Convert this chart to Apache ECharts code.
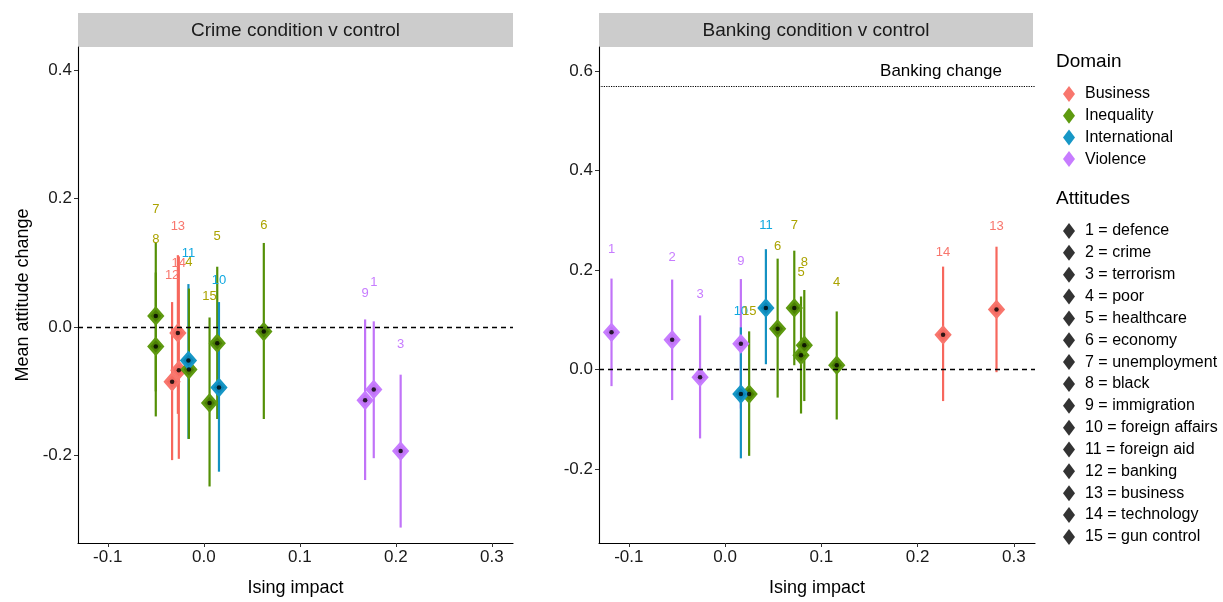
<!DOCTYPE html>
<html>
<head>
<meta charset="utf-8">
<script src="https://cdn.jsdelivr.net/npm/echarts@6/dist/echarts.min.js"></script>
<style>
html,body{margin:0;padding:0;background:#fff;}
#chart{width:1223px;height:602px;}
</style>
</head>
<body>
<div id="chart"></div>
<script>
// ---------- data ----------
const attitudeNames = ['defence','crime','terrorism','poor','healthcare','economy','unemployment','black','immigration','foreign affairs','foreign aid','banking','business','technology','gun control'];
const domainNames = ['Business','Inequality','International','Violence'];
// domain of attitude 1..15
const attitudeDomain = ['Violence','Violence','Violence','Inequality','Inequality','Inequality','Inequality','Inequality','Violence','International','International','Business','Business','Business','Inequality'];

// Crime condition v control
const crimeIds   = [7, 8, 12, 13, 14, 11, 4, 15, 5, 10, 6, 9, 1, 3];
const crimeX     = [-0.050, -0.050, -0.033, -0.027, -0.026, -0.016, -0.0155, 0.006, 0.014, 0.0158, 0.0625, 0.168, 0.177, 0.205];
const crimeMean  = [0.0175, -0.030, -0.085, -0.009, -0.067, -0.052, -0.066, -0.118, -0.025, -0.094, -0.007, -0.114, -0.097, -0.193];
const crimeLow   = [-0.100, -0.139, -0.207, -0.135, -0.205, -0.174, -0.174, -0.248, -0.143, -0.225, -0.143, -0.238, -0.204, -0.312];
const crimeHigh  = [0.132, 0.085, 0.039, 0.112, 0.110, 0.067, 0.060, 0.015, 0.094, 0.039, 0.131, 0.012, 0.009, -0.074];

// Banking condition v control
const bankIds    = [1, 2, 3, 9, 10, 15, 11, 6, 7, 5, 8, 4, 14, 13];
const bankX      = [-0.118, -0.055, -0.026, 0.0164, 0.0164, 0.025, 0.0424, 0.0546, 0.0719, 0.0789, 0.0823, 0.116, 0.2265, 0.282];
const bankMean   = [0.075, 0.060, -0.015, 0.052, -0.049, -0.049, 0.124, 0.082, 0.124, 0.029, 0.049, 0.009, 0.070, 0.121];
const bankLow    = [-0.033, -0.061, -0.138, -0.078, -0.178, -0.173, 0.011, -0.056, 0.009, -0.088, -0.063, -0.100, -0.063, -0.005];
const bankHigh   = [0.183, 0.181, 0.109, 0.182, 0.085, 0.077, 0.242, 0.223, 0.239, 0.147, 0.160, 0.117, 0.207, 0.247];

const bankingChange = 0.572;

const xTicks = [-0.1, 0.0, 0.1, 0.2, 0.3];
const crimeYTicks = [-0.2, 0.0, 0.2, 0.4];
const bankYTicks = [-0.2, 0.0, 0.2, 0.4, 0.6];

// ---------- styles ----------
const domainColor = {Business:'#F8766D', Inequality:'#5E9A10', International:'#1797C6', Violence:'#C77CFF'};
const domainFill  = {Business:'#F56B62', Inequality:'#4C7F05', International:'#0C86B8', Violence:'#C074F5'};
const barColor    = {Business:'#F7675D', Inequality:'#549006', International:'#1491C2', Violence:'#C173F8'};
const labelColor  = {Business:'#F8766D', Inequality:'#ABA300', International:'#10A8E0', Violence:'#C77CFF'};
const labelNudge = 0.166;
const FONT = 'Liberation Sans, Arial, sans-serif';

const chart = echarts.init(document.getElementById('chart'), null, {renderer:'canvas'});

function xAxisCfg(gi){
  return {
    type:'value', gridIndex:gi, min:-0.131, max:0.322,
    name:'Ising impact', nameLocation:'middle', nameGap:36,
    nameTextStyle:{fontFamily:FONT, fontSize:18, color:'#000'},
    axisLine:{show:true, onZero:false, lineStyle:{color:'#000', width:1.1}},
    axisTick:{show:true, length:4, customValues:xTicks, lineStyle:{color:'#333'}},
    axisLabel:{customValues:xTicks, formatter:v=>v.toFixed(1), fontFamily:FONT, fontSize:17, color:'#1a1a1a', margin:6},
    splitLine:{show:false}
  };
}
function yAxisCfg(gi, mn, mx, ticks, withName){
  return {
    type:'value', gridIndex:gi, min:mn, max:mx,
    name: withName ? 'Mean attitude change' : '', nameLocation:'middle', nameGap:46,
    nameTextStyle:{fontFamily:FONT, fontSize:18, color:'#000'},
    axisLine:{show:true, onZero:false, lineStyle:{color:'#000', width:1.1}},
    axisTick:{show:true, length:4, customValues:ticks, lineStyle:{color:'#333'}},
    axisLabel:{customValues:ticks, formatter:v=>v.toFixed(1), fontFamily:FONT, fontSize:17, color:'#1a1a1a', margin:6},
    splitLine:{show:false}
  };
}

function buildPanel(gi, ids, xs, means, lows, highs){
  const series = [];
  // error bars
  series.push({
    type:'custom', xAxisIndex:gi, yAxisIndex:gi, silent:true, z:2,
    data: ids.map((id,i)=>[xs[i], lows[i], highs[i], domainNames.indexOf(attitudeDomain[id-1])]),
    encode:{x:0, y:[1,2]},
    renderItem:function(params, api){
      const p1 = api.coord([api.value(0), api.value(1)]);
      const p2 = api.coord([api.value(0), api.value(2)]);
      const d = domainNames[api.value(3)];
      return {type:'line', shape:{x1:p1[0], y1:p1[1], x2:p2[0], y2:p2[1]}, style:{stroke:barColor[d], lineWidth:2.2}};
    }
  });
  // points by domain
  domainNames.forEach(dn=>{
    const data = [];
    ids.forEach((id,i)=>{ if(attitudeDomain[id-1]===dn) data.push([xs[i], means[i]]); });
    series.push({
      name:dn, type:'scatter', xAxisIndex:gi, yAxisIndex:gi, z:3, silent:true,
      symbol:'diamond', symbolSize:[14,16],
      itemStyle:{color:domainFill[dn], borderColor:domainColor[dn], borderWidth:2.5, opacity:1},
      data:data
    });
  });
  // black centre dots + zero line
  series.push({
    type:'scatter', xAxisIndex:gi, yAxisIndex:gi, z:4, silent:true,
    symbol:'circle', symbolSize:4.5, itemStyle:{color:'#000'},
    data: ids.map((id,i)=>[xs[i], means[i]]),
    markLine:{
      silent:true, symbol:'none', animation:false,
      lineStyle:{color:'#000', type:[5,4], width:1.3},
      label:{show:false},
      data:[{yAxis:0}]
    }
  });
  // number labels
  series.push({
    type:'custom', xAxisIndex:gi, yAxisIndex:gi, silent:true, z:5,
    data: ids.map((id,i)=>[xs[i], means[i], id, domainNames.indexOf(attitudeDomain[id-1])]),
    encode:{x:0, y:1},
    renderItem:function(params, api){
      const p = api.coord([api.value(0), api.value(1) + labelNudge]);
      const d = domainNames[api.value(3)];
      return {type:'text', x:p[0], y:p[1], style:{text:String(api.value(2)), fill:labelColor[d], font:'13px '+FONT, align:'center', verticalAlign:'middle'}};
    }
  });
  return series;
}

const series = [];
buildPanel(0, crimeIds, crimeX, crimeMean, crimeLow, crimeHigh).forEach(s=>series.push(s));
const bankSeries = buildPanel(1, bankIds, bankX, bankMean, bankLow, bankHigh);
// banking change dotted line
bankSeries.push({
  type:'scatter', xAxisIndex:1, yAxisIndex:1, data:[], silent:true,
  markLine:{
    silent:true, symbol:'none', animation:false,
    lineStyle:{color:'#000', type:'dotted', width:1.2},
    label:{show:true, position:'insideEndTop', formatter:'Banking change', fontFamily:FONT, fontSize:17, color:'#000', distance:[33,6]},
    data:[{yAxis:bankingChange}]
  }
});
bankSeries.forEach(s=>series.push(s));

// attitude legend dummies
const attitudeLabels = attitudeNames.map((n,i)=>(i+1)+' = '+n);
attitudeLabels.forEach(l=>{
  series.push({name:l, type:'scatter', xAxisIndex:0, yAxisIndex:0, data:[], itemStyle:{color:'#000'}, symbol:'diamond'});
});

const option = {
  animation:false,
  backgroundColor:'#fff',
  grid:[
    {left:78, top:47, width:435, height:498},
    {left:599, top:47, width:436, height:498}
  ],
  xAxis:[xAxisCfg(0), xAxisCfg(1)],
  yAxis:[yAxisCfg(0, -0.336, 0.436, crimeYTicks, true), yAxisCfg(1, -0.348, 0.648, bankYTicks, false)],
  legend:[
    {
      data: domainNames.map(dn=>({name:dn, icon:'diamond', itemStyle:{color:domainColor[dn], borderWidth:0}})),
      orient:'vertical', left:1058, top:81, itemWidth:12, itemHeight:16, itemGap:5.7,
      selectedMode:false,
      textStyle:{fontFamily:FONT, fontSize:16, color:'#000', padding:[0,0,0,5]}
    },
    {
      data: attitudeLabels.map(l=>({name:l, icon:'diamond', itemStyle:{color:'#000', borderWidth:0}})),
      orient:'vertical', left:1058, top:218, itemWidth:12, itemHeight:16, itemGap:5.85,
      selectedMode:false,
      textStyle:{fontFamily:FONT, fontSize:16, color:'#000', padding:[0,0,0,5]}
    }
  ],
  graphic:[
    {type:'rect', left:78, top:13, shape:{width:435, height:34}, style:{fill:'#CCCCCC'}, silent:true},
    {type:'rect', left:599, top:13, shape:{width:434, height:34}, style:{fill:'#CCCCCC'}, silent:true},
    {type:'text', x:295.5, y:31, style:{text:'Crime condition v control', font:'19px '+FONT, fill:'#1a1a1a', align:'center', verticalAlign:'middle'}, silent:true},
    {type:'text', x:816, y:31, style:{text:'Banking condition v control', font:'19px '+FONT, fill:'#1a1a1a', align:'center', verticalAlign:'middle'}, silent:true},
    {type:'text', x:1056, y:52, style:{text:'Domain', font:'19px '+FONT, fill:'#000'}, silent:true},
    {type:'text', x:1056, y:189, style:{text:'Attitudes', font:'19px '+FONT, fill:'#000'}, silent:true}
  ],
  series: series
};
chart.setOption(option);
</script>
</body>
</html>
